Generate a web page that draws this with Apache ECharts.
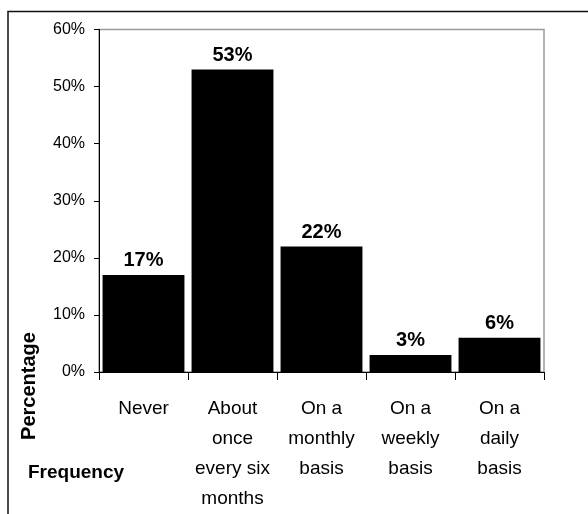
<!DOCTYPE html>
<html>
<head>
<meta charset="utf-8">
<script src="https://cdn.jsdelivr.net/npm/echarts@6/dist/echarts.min.js"></script>
<style>
  html, body { margin: 0; padding: 0; background: #fff; }
  #chart { width: 588px; height: 514px; }
</style>
</head>
<body>
<div id="chart"></div>
<script>
// How often respondents do it
var categories = ['Never', 'About\nonce\nevery six\nmonths', 'On a\nmonthly\nbasis', 'On a\nweekly\nbasis', 'On a\ndaily\nbasis'];
var percentages = [17, 53, 22, 3, 6];
var yTicks = { min: 0, max: 60, interval: 10 };

var FONT = '"Liberation Sans", Arial, sans-serif';

var chart = echarts.init(document.getElementById('chart'), null, { renderer: 'canvas' });
chart.setOption({
  animation: false,
  backgroundColor: '#fff',
  grid: {
    left: 99, right: 44, top: 29.5, bottom: 141,
    show: true, borderColor: '#9a9a9a', borderWidth: 1.5, backgroundColor: 'transparent'
  },
  xAxis: {
    type: 'category',
    data: categories,
    axisLine: { lineStyle: { color: '#000', width: 1 } },
    axisTick: { show: true, alignWithLabel: false, length: 8, lineStyle: { color: '#000' } },
    axisLabel: {
      color: '#000', fontFamily: FONT, fontSize: 19, lineHeight: 30,
      margin: 22, interval: 0
    }
  },
  yAxis: {
    type: 'value',
    min: yTicks.min, max: yTicks.max, interval: yTicks.interval,
    axisLine: { show: true, lineStyle: { color: '#000', width: 1 } },
    axisTick: { show: true, length: 5, lineStyle: { color: '#000' } },
    splitLine: { show: false },
    axisLabel: {
      color: '#000', fontFamily: FONT, fontSize: 16, margin: 14,
      formatter: '{value}%'
    }
  },
  series: [{
    type: 'bar',
    data: percentages,
    barCategoryGap: '8%',
    itemStyle: { color: '#000' },
    label: {
      show: true, position: 'top', distance: 4,
      color: '#000', fontFamily: FONT, fontSize: 20, fontWeight: 'bold',
      formatter: '{c}%'
    }
  }],
  graphic: [
    {
      type: 'polyline',
      shape: { points: [[8, 514], [8, 11.5], [588, 11.5]] },
      style: { stroke: '#111', lineWidth: 1.5, fill: null }
    },
    {
      type: 'text',
      x: 29, y: 386, rotation: Math.PI / 2,
      style: {
        text: 'Percentage', fill: '#000', font: 'bold 20px ' + FONT,
        textAlign: 'center', textVerticalAlign: 'middle'
      }
    },
    {
      type: 'text',
      x: 28, y: 473,
      style: {
        text: 'Frequency', fill: '#000', font: 'bold 19px ' + FONT,
        textAlign: 'left', textVerticalAlign: 'middle'
      }
    }
  ]
});
</script>
</body>
</html>
